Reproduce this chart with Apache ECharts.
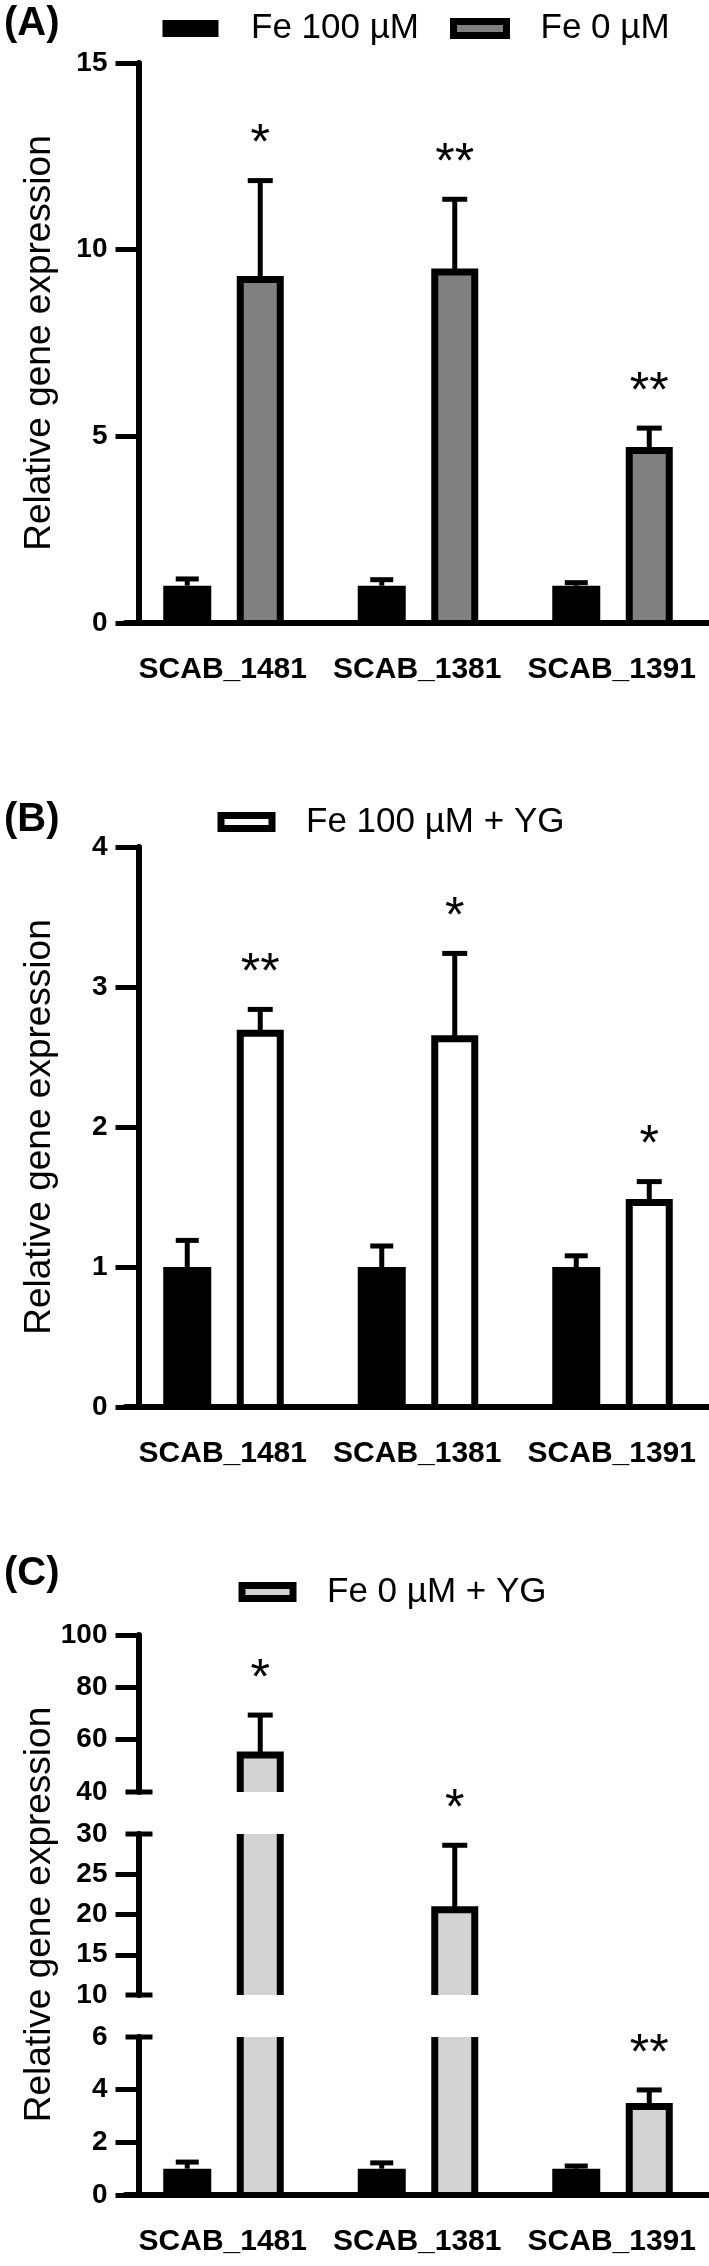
<!DOCTYPE html>
<html>
<head>
<meta charset="utf-8">
<script src="https://cdn.jsdelivr.net/npm/echarts@6/dist/echarts.min.js"></script>
<style>
  html, body { margin: 0; padding: 0; background: #fff; }
  #chart { width: 709px; height: 2266px; }
</style>
</head>
<body>
<div id="chart"></div>
<script>
var genes = ['SCAB_1481', 'SCAB_1381', 'SCAB_1391'];

// (A) Fe 100 uM vs Fe 0 uM
var fe100A = [1, 1, 1];
var fe100ErrA = [0.18, 0.16, 0.08];
var fe0A = [9.2, 9.4, 4.62];
var fe0ErrA = [2.65, 1.95, 0.6];
var sigA = ['*', '**', '**'];

// (B) Fe 100 uM vs Fe 100 uM + YG
var fe100B = [1, 1, 1];
var fe100ErrB = [0.19, 0.15, 0.08];
var fe100YgB = [2.67, 2.63, 1.46];
var fe100YgErrB = [0.17, 0.61, 0.15];
var sigB = ['**', '*', '*'];

// (C) Fe 100 uM vs Fe 0 uM + YG, broken y axis
var fe100C = [1, 1, 1];
var fe100ErrC = [0.25, 0.22, 0.1];
var fe0YgC = [54.1, 20.6, 3.36];
var fe0YgErrC = [15.3, 8, 0.63];
var sigC = ['*', '*', '**'];

var ticksA = [0, 5, 10, 15];
var ticksB = [0, 1, 2, 3, 4];
var ticksCLow = [0, 2, 4, 6];
var ticksCMid = [10, 15, 20, 25, 30];
var ticksCHigh = [40, 60, 80, 100];

var FONT = '"Liberation Sans", Arial, Helvetica, sans-serif';
var SOLID_W = 48, OPEN_W = 40, LINE_W = 7;
var OFF_SOLID = -35.5, OFF_OPEN = 37.5;
var Y_SHIFT = 13; // y axis sits a bit right of the grid's left edge

var chart = echarts.init(document.getElementById('chart'));

function rows(vals, errs) {
  return vals.map(function (v, i) { return errs ? [i, v, errs[i]] : [i, v]; });
}

function seg(x1, y1, x2, y2, w) {
  return { type: 'line', shape: { x1: x1, y1: y1, x2: x2, y2: y2 }, style: { stroke: '#000', lineWidth: w } };
}

// bars drawn by hand so a clipped end stays open (for the broken axis)
function barSeries(name, idx, vals, offset, width, fill, outlined) {
  return {
    type: 'custom', name: name, xAxisIndex: idx, yAxisIndex: idx,
    data: rows(vals), encode: { x: 0, y: 1 }, silent: true,
    itemStyle: { color: fill },
    renderItem: function (params, api) {
      var cs = params.coordSys;
      var top = api.coord([api.value(0), api.value(1)]);
      var base = api.coord([api.value(0), 0]);
      var x0 = top[0] + offset - width / 2, x1 = x0 + width;
      var yTop = Math.max(top[1], cs.y), yBot = Math.min(base[1], cs.y + cs.height);
      if (yTop >= yBot) return null;
      var kids = [{ type: 'rect', shape: { x: x0, y: yTop, width: width, height: yBot - yTop }, style: { fill: fill } }];
      if (outlined) {
        if (top[1] >= cs.y) {
          kids.push({ type: 'polyline', shape: { points: [[x0, yBot], [x0, yTop], [x1, yTop], [x1, yBot]] },
            style: { stroke: '#000', lineWidth: LINE_W, fill: null, lineJoin: 'miter' } });
        } else {
          kids.push(seg(x0, yTop, x0, yBot, LINE_W));
          kids.push(seg(x1, yTop, x1, yBot, LINE_W));
        }
      }
      return { type: 'group', children: kids };
    }
  };
}

function errSeries(idx, vals, errs, offset, capW, sig) {
  return {
    type: 'custom', xAxisIndex: idx, yAxisIndex: idx, z: 4, silent: true,
    data: rows(vals, errs), encode: { x: 0, y: 1 },
    renderItem: function (params, api) {
      var cs = params.coordSys;
      var i = api.value(0);
      var lo = api.coord([i, api.value(1)]);
      var hi = api.coord([i, api.value(1) + api.value(2)]);
      var x = lo[0] + offset;
      var y0 = Math.min(lo[1], cs.y + cs.height), y1 = Math.max(hi[1], cs.y);
      var kids = [];
      if (y1 < y0) kids.push(seg(x, y0, x, y1, 5));
      if (hi[1] >= cs.y - 1 && hi[1] <= cs.y + cs.height) {
        kids.push(seg(x - capW / 2, hi[1], x + capW / 2, hi[1], 5));
        if (sig) {
          kids.push({ type: 'text', x: x, y: hi[1] - 35,
            style: { text: sig[params.dataIndex], fill: '#000', fontSize: 50, fontFamily: FONT,
              align: 'center', verticalAlign: 'middle' } });
        }
      }
      return { type: 'group', children: kids };
    }
  };
}

function breakSeries(idx, vals) {
  return {
    type: 'custom', xAxisIndex: idx, yAxisIndex: idx, silent: true, z: 5,
    data: vals.map(function (v) { return [0, v]; }), encode: { x: 0, y: 1 },
    renderItem: function (params, api) {
      var y = api.coord([0, api.value(1)])[1];
      var ax = params.coordSys.x + Y_SHIFT;
      return seg(ax - 13, y, ax + 14, y, 5);
    }
  };
}

function xAxis(idx, show) {
  return {
    gridIndex: idx, type: 'category', data: genes, show: show, z: 5,
    axisLine: { lineStyle: { color: '#000', width: 6 } },
    axisTick: { alignWithLabel: true, length: 24, lineStyle: { color: '#000', width: 5 } },
    axisLabel: { color: '#000', fontSize: 30, fontWeight: 'bold', fontFamily: FONT, margin: 32,
      interval: 0, hideOverlap: false }
  };
}

function yAxis(idx, ticks, labelTicks, tickTicks, name) {
  var ax = {
    gridIndex: idx, type: 'value', min: ticks[0], max: ticks[ticks.length - 1],
    interval: ticks[1] - ticks[0], offset: -Y_SHIFT, z: 5,
    axisLine: { show: true, lineStyle: { color: '#000', width: 6 } },
    axisTick: { show: true, length: 23, lineStyle: { color: '#000', width: 5 } },
    axisLabel: { color: '#000', fontSize: 28, fontWeight: 'bold', fontFamily: FONT, margin: 31 },
    splitLine: { show: false }
  };
  if (labelTicks) ax.axisLabel.customValues = labelTicks;
  if (tickTicks) ax.axisTick.customValues = tickTicks;
  if (name) {
    ax.name = name;
    ax.nameLocation = 'middle';
    ax.nameGap = 80;
    ax.nameTextStyle = { color: '#000', fontSize: 37, fontFamily: FONT };
  }
  return ax;
}

function legend(left, top, iconW, iconH, items) {
  return {
    left: left, top: top, icon: 'rect', itemWidth: iconW, itemHeight: iconH, itemGap: 31,
    selectedMode: false,
    textStyle: { color: '#000', fontSize: 35, fontFamily: FONT, padding: [0, 0, 0, 29] },
    data: items
  };
}

var yName = 'Relative gene expression';

chart.setOption({
  animation: false,
  backgroundColor: '#fff',
  grid: [
    { left: 125.5, width: 585, top: 63, height: 560 },
    { left: 125.5, width: 585, top: 847, height: 560 },
    { left: 125.5, width: 585, top: 1635, height: 157 },
    { left: 125.5, width: 585, top: 1834, height: 161 },
    { left: 125.5, width: 585, top: 2037, height: 158 }
  ],
  legend: [
    legend(157.5, 6, 53, 14, [
      { name: 'Fe 100 µM', itemStyle: { color: '#000', borderColor: '#000', borderWidth: 3 } },
      { name: 'Fe 0 µM', itemStyle: { color: '#808080', borderColor: '#000', borderWidth: 7 } }
    ]),
    legend(212.5, 799.5, 51, 13, [
      { name: 'Fe 100 µM + YG', itemStyle: { color: '#fff', borderColor: '#000', borderWidth: 7 } }
    ]),
    legend(233.5, 1569.5, 51, 13, [
      { name: 'Fe 0 µM + YG', itemStyle: { color: '#d3d3d3', borderColor: '#000', borderWidth: 7 } }
    ])
  ],
  xAxis: [xAxis(0, true), xAxis(1, true), xAxis(2, false), xAxis(3, false), xAxis(4, true)],
  yAxis: [
    yAxis(0, ticksA, null, null, yName),
    yAxis(1, ticksB, null, null, yName),
    yAxis(2, ticksCHigh, ticksCHigh, ticksCHigh.slice(1)),
    yAxis(3, ticksCMid, ticksCMid, ticksCMid.slice(1, -1), yName),
    yAxis(4, ticksCLow, ticksCLow, ticksCLow.slice(0, -1))
  ],
  graphic: [
    { type: 'text', left: 4, top: 4, style: { text: '(A)', fill: '#000', fontSize: 40, fontWeight: 'bold', fontFamily: FONT } },
    { type: 'text', left: 4, top: 800, style: { text: '(B)', fill: '#000', fontSize: 40, fontWeight: 'bold', fontFamily: FONT } },
    { type: 'text', left: 4, top: 1554, style: { text: '(C)', fill: '#000', fontSize: 40, fontWeight: 'bold', fontFamily: FONT } }
  ],
  series: [
    // (A)
    barSeries('Fe 100 µM', 0, fe100A, OFF_SOLID, SOLID_W, '#000', false),
    barSeries('Fe 0 µM', 0, fe0A, OFF_OPEN, OPEN_W, '#808080', true),
    errSeries(0, fe100A, fe100ErrA, OFF_SOLID, 23),
    errSeries(0, fe0A, fe0ErrA, OFF_OPEN, 25, sigA),
    // (B)
    barSeries('Fe 100 µM', 1, fe100B, OFF_SOLID, SOLID_W, '#000', false),
    barSeries('Fe 100 µM + YG', 1, fe100YgB, OFF_OPEN, OPEN_W, '#fff', true),
    errSeries(1, fe100B, fe100ErrB, OFF_SOLID, 23),
    errSeries(1, fe100YgB, fe100YgErrB, OFF_OPEN, 25, sigB),
    // (C) three segments of the broken axis
    barSeries('Fe 0 µM + YG', 2, fe0YgC, OFF_OPEN, OPEN_W, '#d3d3d3', true),
    barSeries('Fe 0 µM + YG', 3, fe0YgC, OFF_OPEN, OPEN_W, '#d3d3d3', true),
    barSeries('Fe 100 µM', 4, fe100C, OFF_SOLID, SOLID_W, '#000', false),
    barSeries('Fe 0 µM + YG', 4, fe0YgC, OFF_OPEN, OPEN_W, '#d3d3d3', true),
    errSeries(2, fe0YgC, fe0YgErrC, OFF_OPEN, 25, sigC),
    errSeries(3, fe0YgC, fe0YgErrC, OFF_OPEN, 25, sigC),
    errSeries(4, fe0YgC, fe0YgErrC, OFF_OPEN, 25, sigC),
    errSeries(4, fe100C, fe100ErrC, OFF_SOLID, 23),
    breakSeries(2, [ticksCHigh[0]]),
    breakSeries(3, [ticksCMid[0], ticksCMid[ticksCMid.length - 1]]),
    breakSeries(4, [ticksCLow[ticksCLow.length - 1]])
  ]
});
</script>
</body>
</html>
